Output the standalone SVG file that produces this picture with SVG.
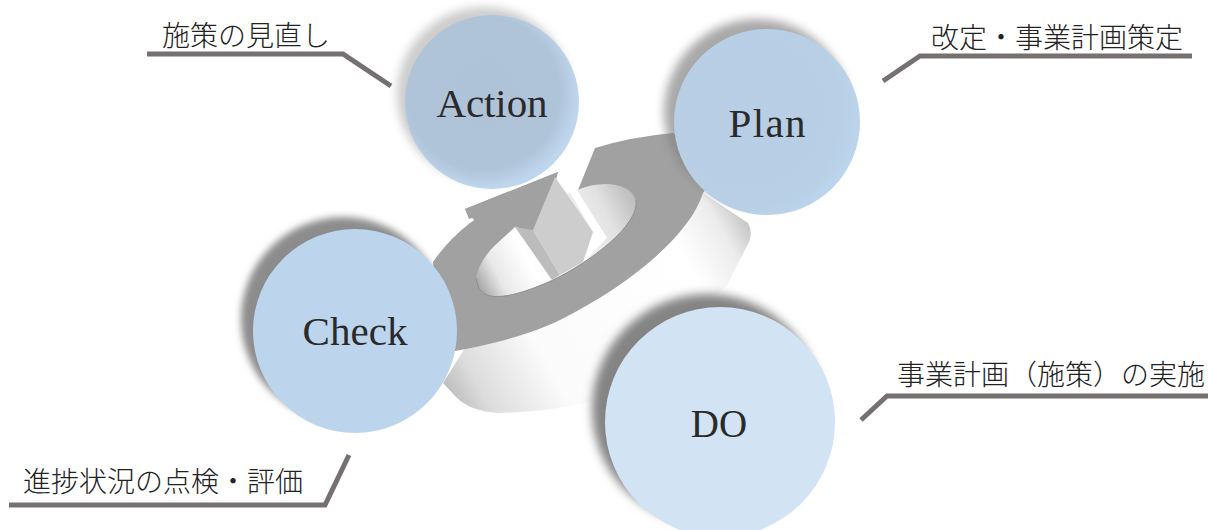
<svg xmlns="http://www.w3.org/2000/svg" width="1208" height="530" viewBox="0 0 1208 530">
<style>
.lbl{font-family:"Noto Sans CJK JP","Liberation Serif",serif;font-size:28px;font-weight:300;fill:#222}
.nm{font-family:"Liberation Serif","Noto Sans CJK JP",serif;font-size:41px;fill:#2a2a2a;text-anchor:middle}
.lead{fill:none;stroke:#767171;stroke-width:5;stroke-linejoin:miter}
</style>
<defs>
<filter id="b3" x="-30%" y="-30%" width="160%" height="160%"><feGaussianBlur stdDeviation="3.500"/></filter>
<filter id="b5" x="-30%" y="-30%" width="160%" height="160%"><feGaussianBlur stdDeviation="5"/></filter>
<linearGradient id="wall" gradientUnits="userSpaceOnUse" x1="440" y1="405" x2="750" y2="230">
<stop offset="0" stop-color="#b0b0b0"/><stop offset=".12" stop-color="#dcdcdc"/><stop offset=".32" stop-color="#fbfbfb"/><stop offset=".8" stop-color="#fff"/><stop offset=".93" stop-color="#ececec"/><stop offset="1" stop-color="#c8c8c8"/>
</linearGradient>
<linearGradient id="hole" gradientUnits="userSpaceOnUse" x1="478" y1="285" x2="640" y2="200">
<stop offset="0" stop-color="#a8a8a8"/><stop offset=".12" stop-color="#e8e8e8"/><stop offset=".3" stop-color="#fff"/><stop offset=".55" stop-color="#f6f6f6"/><stop offset=".8" stop-color="#e2e2e2"/><stop offset="1" stop-color="#b8b8b8"/>
</linearGradient>
<radialGradient id="act" gradientUnits="userSpaceOnUse" cx="483" cy="93" r="96">
<stop offset="0" stop-color="#afc3d8"/><stop offset=".8" stop-color="#b0c4d9"/><stop offset="1" stop-color="#bfd7ee"/>
</radialGradient>
<radialGradient id="pln" gradientUnits="userSpaceOnUse" cx="745" cy="110" r="118">
<stop offset="0" stop-color="#b8cee4"/><stop offset=".8" stop-color="#b8cfe5"/><stop offset="1" stop-color="#bcd5ec"/>
</radialGradient>
</defs>
<g id="ring">
<path d="M703 193L748 223Q753 232 749 242L727 285L600 400Q550 412 497 413Q470 411 456 397L443 383L470 340L640 250Z" fill="url(#wall)"/>
<path d="M433 262Q448 240 470 223L482 215L469 219L465 209L558 172L540 240L580 240L578 190L595 148Q630 137 673 133L720 170L703 193C690 235 630 285 560 320C530 335 490 345 440 354Z" fill="#a1a1a1"/>
<path d="M476 278C480 250 530 205 577 190C600 180 630 182 636 200C640 225 590 262 553 280C520 295 490 303 480 290Z" fill="url(#hole)"/>
<path d="M476 278C478 285 478 288 480 290C490 303 520 295 553 280C590 262 640 225 636 200" fill="none" stroke="#8e8e8e" stroke-width="1"/>
<path d="M465 209L558 172L533 232L515 227L490 250L478 225Z" fill="#a1a1a1"/>
<path d="M558 172L577 190L607 238L583 262L593 232Z" fill="#fff"/>
<path d="M515 227L533 230L560 275L552 280Z" fill="#bcbcbc"/>
<path d="M555 177L593 232L583 262L560 275L533 230Z" fill="#cdcdcd"/>
</g>
<g id="connectors">
<polyline class="lead" points="147,54 343,54 391,86"/>
<polyline class="lead" points="1192,56 920,56 883,81"/>
<polyline class="lead" points="1208,396 887,396 861,420"/>
<polyline class="lead" points="9,505 325,505 349,455"/>
</g>
<g id="node-action">
<circle cx="484" cy="94" r="87" fill="#9a9a9a" opacity=".5" filter="url(#b5)"/>
<circle cx="492" cy="102" r="87" fill="url(#act)"/>
<text class="nm" x="492" y="117" textLength="111">Action</text>
<text class="lbl" x="162" y="46">施策の見直し</text>
</g>
<g id="node-plan">
<circle cx="757" cy="112" r="93" fill="#848484" opacity=".7" filter="url(#b5)"/>
<circle cx="767" cy="122" r="93" fill="url(#pln)"/>
<text class="nm" x="767" y="137" textLength="77">Plan</text>
<text class="lbl" x="931" y="48">改定・事業計画策定</text>
</g>
<g id="node-check">
<circle cx="343" cy="319" r="102" fill="#8c8c8c" filter="url(#b3)"/>
<circle cx="355" cy="331" r="102" fill="#bcd5ec"/>
<text class="nm" x="355" y="345" textLength="105">Check</text>
<text class="lbl" x="23" y="492">進捗状況の点検・評価</text>
</g>
<g id="node-do">
<circle cx="707" cy="409" r="115" fill="#848484" filter="url(#b5)"/>
<circle cx="720" cy="422" r="115" fill="#d2e3f3"/>
<text class="nm" x="719" y="437" style="font-size:39px">DO</text>
<text class="lbl" x="897" y="385">事業計画（施策）の実施</text>
</g>
</svg>
